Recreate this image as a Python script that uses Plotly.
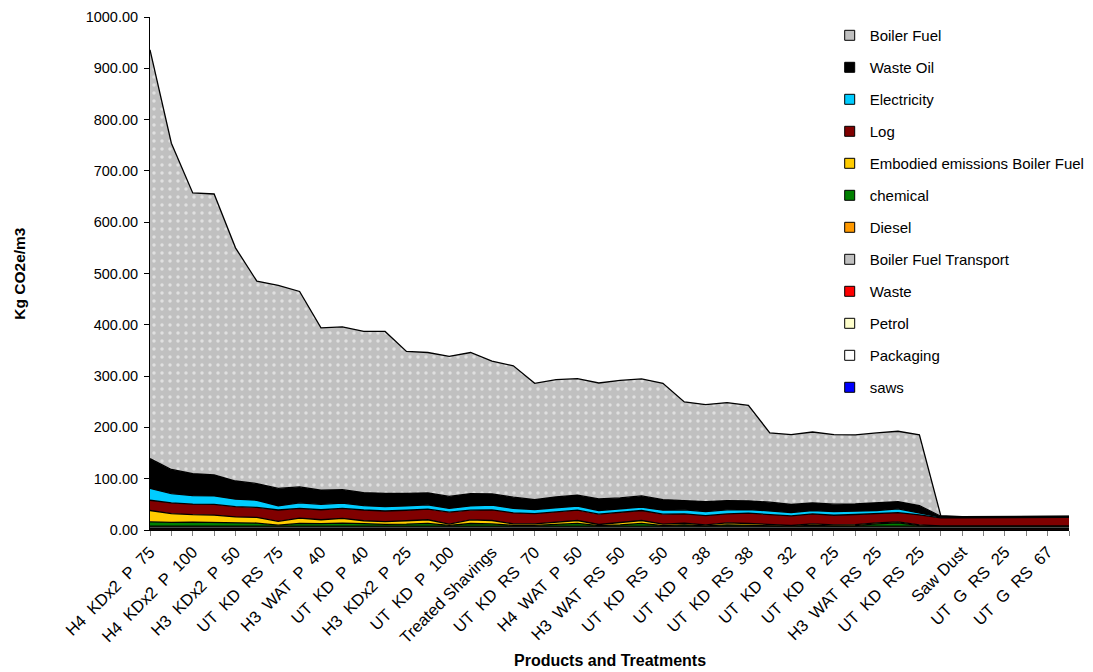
import plotly.graph_objects as go

# Category labels shown on the x axis (every second product); 44 products in total
tick_labels = [
    "H4  KDx2  P  75", "H4  KDx2  P  100", "H3  KDx2  P  50", "UT  KD  RS  75",
    "H3  WAT  P  40", "UT  KD  P  40", "H3  KDx2  P  25", "UT  KD  P  100",
    "Treated Shavings", "UT  KD  RS  70", "H4  WAT  P  50", "H3  WAT  RS  50",
    "UT  KD  RS  50", "UT  KD  P  38", "UT  KD  RS  38", "UT  KD  P  32",
    "UT  KD  P  25", "H3  WAT  RS  25", "UT  KD  RS  25", "Saw Dust",
    "UT  G  RS  25", "UT  G  RS  67",
]
n_products = 44

# Emission sources, kg CO2e per m3 (stacked bottom to top)
saws = [0.8, 0.8, 0.8, 0.8, 0.8, 0.8, 0.8, 0.8, 0.8, 0.8, 0.8,
        0.8, 0.8, 0.8, 0.8, 0.8, 0.8, 0.8, 0.8, 0.8, 0.8, 0.8,
        0.8, 0.8, 0.8, 0.8, 0.8, 0.8, 0.8, 0.8, 0.8, 0.8, 0.8,
        0.8, 0.8, 0.8, 0.8, 0.8, 0.8, 0.8, 0.8, 0.8, 0.8, 0.8]
packaging = [0.5, 0.5, 0.5, 0.5, 0.5, 0.5, 0.5, 0.5, 0.5, 0.5, 0.5,
             0.5, 0.5, 0.5, 0.5, 0.5, 0.5, 0.5, 0.5, 0.5, 0.5, 0.5,
             0.5, 0.5, 0.5, 0.5, 0.5, 0.5, 0.5, 0.5, 0.5, 0.5, 0.5,
             0.5, 0.5, 0.5, 0.5, 0.5, 0.5, 0.5, 0.5, 0.5, 0.5, 0.5]
petrol = [0.3, 0.3, 0.3, 0.3, 0.3, 0.3, 0.3, 0.3, 0.3, 0.3, 0.3,
          0.3, 0.3, 0.3, 0.3, 0.3, 0.3, 0.3, 0.3, 0.3, 0.3, 0.3,
          0.3, 0.3, 0.3, 0.3, 0.3, 0.3, 0.3, 0.3, 0.3, 0.3, 0.3,
          0.3, 0.3, 0.3, 0.3, 0.3, 0.3, 0.3, 0.3, 0.3, 0.3, 0.3]
waste = [1.6, 1.6, 1.6, 1.6, 1.6, 1.6, 1.6, 1.6, 1.6, 1.6, 1.6,
         1.6, 1.6, 1.6, 1.6, 1.6, 1.6, 1.6, 1.6, 1.6, 1.6, 1.6,
         1.6, 1.6, 1.6, 1.6, 1.6, 1.6, 1.6, 1.6, 1.6, 1.6, 1.6,
         1.6, 1.6, 1.6, 1.6, 1.6, 1.6, 1.6, 1.6, 1.6, 1.6, 1.6]
boiler_fuel_transport = [2.8, 2.8, 2.8, 2.8, 2.8, 2.8, 2.8, 2.8, 2.8, 2.8, 2.8,
                         2.8, 2.8, 2.8, 2.8, 2.8, 2.8, 2.8, 2.8, 2.8, 2.8, 2.8,
                         2.8, 2.8, 2.8, 2.8, 2.8, 2.8, 2.8, 2.8, 2.8, 2.8, 2.8,
                         2.8, 2.8, 2.8, 2.8, 2.8, 2.8, 2.8, 2.8, 2.8, 2.8, 2.8]
diesel = [1.5, 1.5, 1.5, 1.5, 1.5, 1.5, 1.5, 1.5, 1.5, 1.5, 1.5,
          1.5, 1.5, 1.5, 1.5, 1.5, 1.5, 1.5, 1.5, 1.5, 1.5, 1.5,
          1.5, 1.5, 1.5, 1.5, 1.5, 1.5, 1.5, 1.5, 1.5, 1.5, 1.5,
          1.5, 1.5, 1.5, 1.5, 1.5, 1.5, 1.5, 1.5, 1.5, 1.5, 1.5]
chemical = [8.5, 7.5, 8, 7.5, 6, 6, 2, 5.5, 5, 6, 5,
            3.5, 4, 5.5, 1.5, 5.2, 4.5, 1.5, 1.5, 3.5, 5.5, 1,
            2.5, 5.5, 1, 2.5, 0.5, 2.5, 2, 1, 0, 1.5, 0.5,
            1, 4.5, 6.5, 1, 0, 0, 0, 0, 0, 0, 0]
embodied_boiler_fuel = [22, 17, 14.5, 14, 12, 11, 7.5, 10, 7.5, 9, 5.5,
                        5.5, 6.5, 7, 2.5, 7.1, 6.5, 3, 3, 4.2, 5.5, 2.2,
                        4, 5.5, 2.8, 3.2, 2, 4, 3.2, 2.2, 1.3, 3, 2,
                        2, 2, 2, 1.5, 0.5, 0.5, 0.5, 0.5, 0.5, 0.5, 0.5]
log = [20, 21, 20.5, 21, 20, 19.5, 22, 19, 19.5, 19.5, 21,
       20.5, 20.5, 20.5, 23.2, 18.8, 20.8, 21.5, 20, 20.2, 20.1, 20.1,
       20, 19.5, 19.5, 18.3, 18.2, 17.5, 20, 19.3, 18.8, 19.5, 18.8,
       19.7, 18, 18, 19.6, 15.5, 15.5, 15.5, 16.5, 16.5, 16.5, 16.5]
electricity = [23, 18, 16.5, 16.5, 14.5, 14, 8, 11, 10.5, 10.5, 8.5,
               8.5, 8.5, 8.5, 7.3, 8.4, 9, 8.5, 8, 7.8, 7.8, 7.2,
               7.9, 6.4, 7.8, 7.8, 7.8, 7.8, 7.3, 7.4, 6.4, 6.5, 7.2,
               6.4, 6, 7.3, 3.9, 1.5, 1, 1, 1, 1, 1, 1]
waste_oil = [58, 47, 43, 41, 35.5, 32.5, 34, 31, 27.5, 26, 25.5,
             26, 24.5, 23.5, 23.5, 24, 22.2, 22, 19.4, 21.4, 21.4, 22.7,
             20.7, 22.1, 20.8, 18.1, 19.5, 18.1, 16.8, 16.8, 15.7, 15, 14.3,
             14.4, 15, 14.2, 14.2, 1.5, 1, 1, 1, 1, 1, 1]
boiler_fuel = [797, 636, 547, 547.5, 454.5, 394.5, 396, 381, 316.5, 317.5, 314,
               315.5, 276.5, 273.5, 273, 275, 258.5, 256, 226.6, 228.4, 227.2, 225.9,
               229.1, 227.9, 226.6, 192.2, 188.9, 190.9, 186.2, 135.1, 136.3, 138, 135.7,
               134.3, 136.3, 137, 137.6, 1.5, 0.5, 0.5, 0.5, 0.5, 0.5, 0.5]

GREY = "#C0C0C0"
# (name, values, colour, dotted fill) from the bottom of the stack upwards
layers = [
    ("saws", saws, "#0000FF", False),
    ("Packaging", packaging, "#FFFFFF", False),
    ("Petrol", petrol, "#FFFFCC", False),
    ("Waste", waste, "#FF0000", False),
    ("Boiler Fuel Transport", boiler_fuel_transport, GREY, True),
    ("Diesel", diesel, "#FF9900", False),
    ("chemical", chemical, "#008000", False),
    ("Embodied emissions Boiler Fuel", embodied_boiler_fuel, "#FFCC00", False),
    ("Log", log, "#800000", False),
    ("Electricity", electricity, "#00CCFF", False),
    ("Waste Oil", waste_oil, "#000000", False),
    ("Boiler Fuel", boiler_fuel, GREY, True),
]

x = list(range(n_products))
fig = go.Figure()

for name, vals, color, dotted in layers:
    kw = {}
    if dotted:
        kw["fillpattern"] = dict(shape=".", bgcolor=GREY, fgcolor="#FFFFFF",
                                 size=8, solidity=0.15)
    fig.add_trace(go.Scatter(
        x=x, y=vals, name=name, stackgroup="one", mode="lines",
        line=dict(color="#000000", width=1.3), fillcolor=color,
        showlegend=False, hoverinfo="skip", **kw,
    ))

# Legend swatches, listed top of stack first
for name, vals, color, dotted in reversed(layers):
    fig.add_trace(go.Scatter(
        x=[None], y=[None], mode="markers", name=name, legendgroup=name,
        marker=dict(symbol="square", size=10, color=color,
                    line=dict(color="#000000", width=1)),
    ))

tickvals = list(range(n_products))
ticktext = [tick_labels[i // 2] if i % 2 == 0 else "" for i in tickvals]

FONT = "Liberation Sans, Arial, sans-serif"
fig.update_layout(
    width=1093, height=672,
    margin=dict(l=150, r=24, t=17, b=141.5, autoexpand=False),
    paper_bgcolor="white", plot_bgcolor="white",
    font=dict(family=FONT, size=14, color="#000000"),
    showlegend=True,
    legend=dict(
        x=0.7396, y=0.996, xanchor="left", yanchor="top",
        bgcolor="rgba(0,0,0,0)", font=dict(size=15),
        traceorder="grouped", tracegroupgap=9.5, itemwidth=30,
    ),
    xaxis=dict(
        range=[0, n_products - 1], tickmode="array", tickvals=tickvals,
        ticktext=ticktext, tickangle=-45, ticks="outside", ticklen=5,
        tickcolor="#808080", showline=True, linecolor="#000000", linewidth=1,
        showgrid=False, zeroline=False, tickfont=dict(size=16.5),
    ),
    yaxis=dict(
        range=[0, 1000], dtick=100, tickformat=".2f", ticks="outside",
        ticklen=5, tickcolor="#000000", showline=True, linecolor="#000000",
        linewidth=1, showgrid=False, zeroline=False, tickfont=dict(size=14.5),
        ticklabelstandoff=3,
    ),
    annotations=[
        dict(text="<b>Products and Treatments</b>", xref="paper", yref="paper",
             x=0.5, y=-0.254, xanchor="center", yanchor="middle",
             showarrow=False, font=dict(size=16)),
        dict(text="<b>Kg CO2e/m3</b>", xref="paper", yref="paper",
             x=-0.1415, y=0.5015, xanchor="center", yanchor="middle",
             textangle=-90, showarrow=False, font=dict(size=15.5)),
    ],
)

fig.write_html("out.html", config={"displayModeBar": False})
